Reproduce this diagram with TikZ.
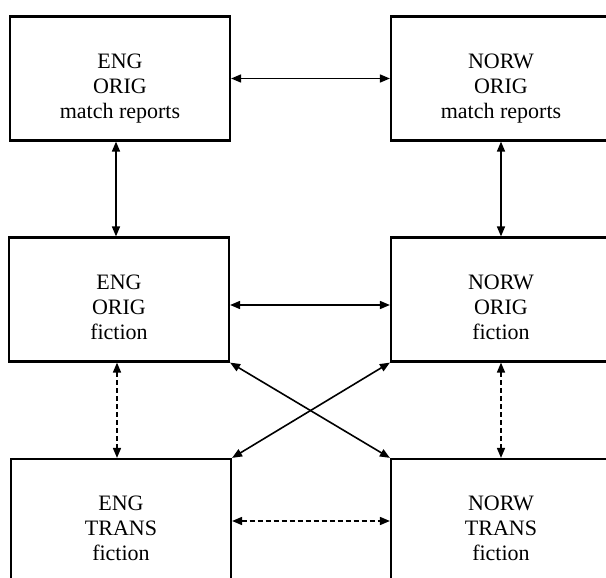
\documentclass[tikz,border=0pt]{standalone}
\usepackage{fontspec}
\setmainfont{Liberation Serif}
\usetikzlibrary{arrows.meta}
\tikzset{
  box/.style={draw, line width=2.2pt, minimum width=220pt, minimum height=124pt, inner sep=0pt},
  txt/.style={align=center, inner sep=0pt, font=\fontsize{22}{25}\selectfont},
  link/.style={line width=1.6pt, {Triangle[length=10pt,width=8pt]}-{Triangle[length=10pt,width=8pt]}},
  dlink/.style={link, dash pattern=on 5pt off 3pt},
}
\begin{document}
\begin{tikzpicture}[x=1pt,y=-1pt]
\useasboundingbox (0,0) rectangle (606,578);
% boxes
\node[box] (eom) at (120,78.5) {};
\node[box] (nom) at (501,78.5) {};
\node[box] (eof) at (119,299.5) {};
\node[box] (nof) at (501,299.5) {};
\node[box] (etf) at (121,521) {};
\node[box] (ntf) at (501,521) {};
% texts
\node[txt] (teom) at ([yshift=-10pt]eom.center) {ENG\\ORIG\\match reports};
\node[txt] (tnom) at ([yshift=-10pt]nom.center) {NORW\\ORIG\\match reports};
\node[txt] (teof) at ([yshift=-10pt]eof.center) {ENG\\ORIG\\fiction\vphantom{p}};
\node[txt] (tnof) at ([yshift=-10pt]nof.center) {NORW\\ORIG\\fiction\vphantom{p}};
\node[txt] (tetf) at ([yshift=-10pt]etf.center) {ENG\\TRANS\\fiction\vphantom{p}};
\node[txt] (tntf) at ([yshift=-10pt]ntf.center) {NORW\\TRANS\\fiction\vphantom{p}};
% connectors
\draw[link] (eom.east) -- (nom.west);
\draw[link] ([xshift=-4pt]eom.south) -- ([xshift=-3pt]eof.north);
\draw[link] (nom.south) -- (nof.north);
\draw[link] ([yshift=-5.5pt]eof.east) -- ([yshift=-5.5pt]nof.west);
\draw[dlink] ([xshift=-2pt]eof.south) -- ([xshift=-4pt]etf.north);
\draw[dlink] (nof.south) -- (ntf.north);
\draw[dlink] (etf.east) -- (ntf.west);
\draw[link] (eof.south east) -- (ntf.north west);
\draw[link] (nof.south west) -- (etf.north east);
\end{tikzpicture}
\end{document}
